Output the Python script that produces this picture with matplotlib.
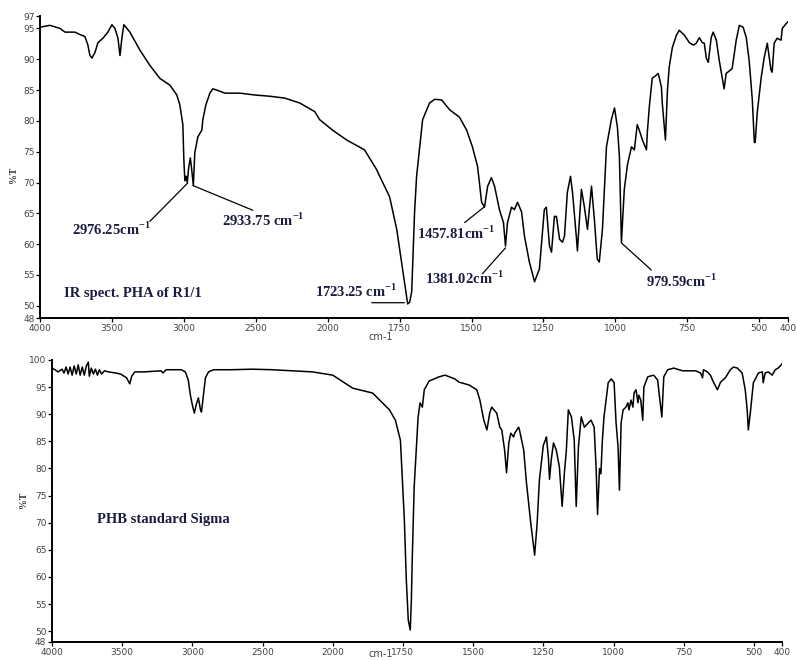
#!/usr/bin/env python3
"""IR spectra: PHA of R1/1 vs PHB standard (Sigma)."""

import numpy as np
import matplotlib
matplotlib.use('Agg')
import matplotlib.pyplot as plt

plt.rcParams['mathtext.fontset'] = 'custom'
plt.rcParams['mathtext.rm'] = 'Liberation Serif'
plt.rcParams['mathtext.bf'] = 'Liberation Serif:bold'

# ---- data: wavenumber (cm-1) and %T ----
pha_wn = [4000, 3931, 3861, 3826, 3757, 3722, 3688, 3667, 3653, 3639, 3618, 3597,
          3563, 3528, 3500, 3479, 3458, 3444, 3431, 3417, 3375, 3306, 3236, 3167,
          3097, 3049, 3028, 3007, 3000, 2993, 2986, 2983, 2976, 2966, 2955, 2945,
          2934, 2924, 2903, 2875, 2868, 2847, 2819, 2799, 2771, 2715, 2611, 2507,
          2403, 2299, 2194, 2090, 2056, 1983, 1934, 1872, 1830, 1819, 1785, 1760,
          1740, 1726, 1722, 1715, 1708, 1698, 1691, 1680, 1670, 1646, 1628, 1604,
          1576, 1542, 1517, 1497, 1479, 1465, 1455, 1444, 1431, 1420, 1403, 1389,
          1382, 1375, 1361, 1351, 1340, 1326, 1316, 1299, 1281, 1264, 1247, 1240,
          1229, 1222, 1212, 1205, 1194, 1184, 1177, 1167, 1156, 1149, 1135, 1132,
          1118, 1108, 1097, 1083, 1073, 1063, 1056, 1045, 1031, 1014, 1003, 993,
          986, 979, 969, 958, 944, 934, 924, 917, 906, 892, 889, 882, 872, 858,
          851, 840, 837, 826, 819, 813, 802, 788, 778, 760, 743, 729, 719, 708,
          698, 691, 684, 677, 667, 660, 649, 639, 629, 622, 615, 604, 594, 580,
          569, 556, 545, 535, 524, 517, 514, 507, 493, 483, 472, 459, 455, 448,
          438, 424, 420, 406, 400]
pha_t = [95.2, 95.5, 95.0, 94.4, 94.4, 94.0, 93.7, 92.3, 90.6, 90.2, 91.1, 92.7,
         93.4, 94.4, 95.6, 95.0, 93.4, 90.6, 93.4, 95.6, 94.4, 91.5, 89.0, 86.9,
         85.8, 84.2, 82.6, 79.4, 73.7, 70.3, 71.0, 71.0, 70.0, 72.5, 74.0, 72.0,
         69.5, 74.8, 77.4, 78.5, 80.2, 82.6, 84.5, 85.2, 85.0, 84.5, 84.5, 84.2,
         84.0, 83.7, 82.9, 81.5, 80.2, 78.5, 76.9, 75.3, 72.1, 71.0, 67.7, 62.4,
         56.0, 51.6, 50.3, 50.6, 52.3, 65.2, 71.0, 75.8, 80.2, 82.9, 83.5, 83.4,
         81.8, 80.6, 78.5, 75.8, 72.6, 66.8, 66.0, 69.4, 70.8, 69.4, 65.6, 63.5,
         59.7, 63.5, 66.0, 65.6, 66.8, 65.2, 61.3, 57.1, 53.9, 56.0, 65.6, 66.0,
         59.7, 58.7, 64.5, 64.5, 60.8, 60.3, 61.3, 68.4, 71.0, 68.4, 60.8, 58.9,
         68.9, 66.1, 62.4, 69.4, 64.0, 57.6, 57.1, 62.4, 75.8, 80.2, 82.1, 79.0,
         74.2, 60.3, 68.9, 72.9, 75.8, 75.3, 79.4, 78.5, 76.9, 75.3, 78.1, 82.3,
         86.9, 87.4, 87.7, 85.5, 82.9, 76.9, 85.0, 88.7, 91.9, 93.9, 94.7, 93.9,
         92.7, 92.3, 92.6, 93.5, 92.7, 92.6, 90.2, 89.5, 93.5, 94.4, 93.1, 89.8,
         87.1, 85.2, 87.7, 88.1, 88.5, 93.1, 95.5, 95.2, 93.5, 89.8, 83.4, 76.5,
         76.5, 81.3, 87.1, 90.2, 92.6, 88.2, 87.9, 92.6, 93.4, 93.1, 95.0, 95.8,
         96.1]

phb_wn = [4000, 3978, 3957, 3928, 3914, 3899, 3885, 3871, 3856, 3842, 3827, 3813,
          3799, 3784, 3770, 3755, 3741, 3734, 3720, 3705, 3691, 3676, 3662, 3647,
          3626, 3597, 3547, 3511, 3468, 3446, 3432, 3410, 3345, 3223, 3209, 3187,
          3079, 3050, 3029, 3014, 3000, 2986, 2971, 2957, 2942, 2935, 2921, 2907,
          2885, 2849, 2720, 2576, 2432, 2288, 2144, 2000, 1929, 1858, 1798, 1777,
          1759, 1752, 1745, 1738, 1731, 1724, 1720, 1717, 1713, 1710, 1706, 1696,
          1689, 1681, 1674, 1657, 1621, 1600, 1565, 1550, 1515, 1487, 1476, 1462,
          1451, 1441, 1434, 1416, 1405, 1398, 1388, 1381, 1373, 1366, 1356, 1352,
          1338, 1335, 1320, 1310, 1295, 1281, 1272, 1264, 1250, 1243, 1239, 1232,
          1228, 1222, 1214, 1204, 1193, 1183, 1175, 1168, 1161, 1150, 1140, 1133,
          1125, 1115, 1104, 1090, 1080, 1069, 1062, 1057, 1050, 1045, 1040, 1034,
          1019, 1008, 998, 991, 984, 979, 973, 966, 956, 949, 945, 938, 931, 927,
          920, 913, 910, 903, 896, 892, 878, 857, 843, 839, 828, 821, 807, 786,
          754, 708, 690, 683, 680, 666, 655, 644, 630, 619, 602, 584, 573, 559,
          542, 531, 524, 520, 513, 502, 484, 470, 467, 460, 449, 435, 424, 414,
          403, 400]
phb_t = [98.5, 98.2, 97.8, 98.3, 97.6, 98.7, 97.4, 98.7, 97.2, 98.9, 97.4, 99.1,
         97.2, 98.7, 97.2, 98.9, 99.6, 97.0, 98.5, 97.4, 98.3, 97.2, 98.2, 97.4,
         98.0, 97.8, 97.6, 97.4, 96.7, 95.6, 97.0, 97.8, 97.8, 98.0, 97.6, 98.2,
         98.2, 97.8, 96.3, 93.5, 91.7, 90.2, 91.9, 93.0, 90.8, 90.4, 93.5, 96.7,
         97.8, 98.2, 98.2, 98.3, 98.2, 98.0, 97.8, 97.2, 94.8, 93.9, 90.8, 88.9,
         85.2, 77.9, 70.5, 59.4, 52.0, 50.2, 55.7, 63.1, 70.5, 76.6, 80.3, 89.5,
         92.1, 91.3, 94.5, 96.1, 96.9, 97.2, 96.5, 95.9, 95.4, 94.5, 92.6, 88.9,
         87.1, 90.2, 91.3, 90.2, 87.6, 87.1, 83.4, 79.2, 84.7, 86.5, 85.8, 86.5,
         87.6, 87.1, 83.4, 77.3, 70.0, 64.0, 70.0, 77.9, 84.3, 85.2, 85.8, 82.0,
         78.0, 81.5, 84.7, 83.4, 80.3, 73.0, 79.2, 83.4, 90.8, 89.5, 85.2, 73.0,
         84.0, 89.5, 87.6, 88.4, 88.9, 87.6, 80.0, 71.5, 80.0, 79.0, 85.0, 89.5,
         95.8, 96.5, 95.8, 88.4, 84.0, 76.0, 88.4, 90.8, 91.3, 92.1, 90.8, 92.6,
         91.3, 93.9, 94.5, 92.1, 93.5, 92.6, 88.9, 95.0, 96.9, 97.2, 96.3, 94.5,
         89.5, 96.9, 98.2, 98.5, 98.0, 98.0, 97.6, 96.7, 98.2, 97.8, 97.2, 95.9,
         94.5, 95.9, 96.7, 98.2, 98.7, 98.5, 97.6, 94.5, 90.8, 87.1, 90.2, 95.8,
         97.6, 97.8, 95.8, 97.6, 97.8, 97.2, 98.2, 98.5, 99.1, 99.3]

xticks = [4000, 3500, 3000, 2500, 2000, 1750, 1500, 1250, 1000, 750, 500, 400]
yticks_top = [48, 50, 55, 60, 65, 70, 75, 80, 85, 90, 95, 97]
yticks_bot = [48, 50, 55, 60, 65, 70, 75, 80, 85, 90, 95, 100]

# peak labels on the PHA spectrum: (text, peak wn, peak %T, line end wn, line end %T, text wn, text %T)
peaks = [
    ('2976.25cm', 2974, 69.9, 3236, 63.7, 3778, 62.4),
    ('2933.75 cm', 2936, 69.5, 2521, 65.5, 2736, 63.9),
    ('1457.81cm', 1457, 66.0, 1524, 63.5, 1691, 61.8),
    ('1381.02cm', 1382, 59.4, 1462, 55.2, 1663, 54.4),
    ('979.59cm', 979, 60.2, 875, 55.8, 892, 54.0),
]


# IR convention: 4000-2000 at half the scale of 2000-400
def fwd(w):
    w = np.asarray(w, dtype=float)
    return np.where(w <= 2000, w, 2000 + (w - 2000) / 2)


def inv(u):
    u = np.asarray(u, dtype=float)
    return np.where(u <= 2000, u, 2000 + (u - 2000) * 2)


fig = plt.figure(figsize=(7.97, 6.60), dpi=100)
ax1 = fig.add_axes([0.0502, 0.518, 0.9385, 0.4576])
ax2 = fig.add_axes([0.0652, 0.0273, 0.9160, 0.4273])

txt_color = '#1c1c40'
lab = dict(family='Liberation Serif', fontweight='bold', fontsize=10.5,
           color=txt_color, va='center')

for ax, wn, t, yt in [(ax1, pha_wn, pha_t, yticks_top), (ax2, phb_wn, phb_t, yticks_bot)]:
    ax.set_xscale('function', functions=(fwd, inv))
    ax.plot(wn, t, color='black', lw=1.1)
    ax.set_xlim(4000, 400)
    ax.set_ylim(yt[0], yt[-1])
    ax.set_xticks(xticks)
    ax.set_xticklabels([str(x) for x in xticks])
    ax.set_yticks(yt)
    ax.set_yticklabels([str(y) for y in yt])
    ax.minorticks_off()
    for s in ['top', 'right']:
        ax.spines[s].set_visible(False)
    for s in ['left', 'bottom']:
        ax.spines[s].set_linewidth(1.4)
    ax.tick_params(axis='both', direction='out', length=3, width=0.9, pad=1,
                   labelsize=6.5, labelcolor='#444444')
    ax.patch.set_visible(False)

# annotations, top spectrum
for name, pw, pt, lw_, lt, tw, tt in peaks:
    ax1.annotate('', xy=(pw, pt), xytext=(lw_, lt),
                 arrowprops=dict(arrowstyle='-', color='black', lw=0.9,
                                 shrinkA=0, shrinkB=0))
    ax1.text(tw, tt, name + r'$^{\mathbf{-1}}$', ha='left', **lab)

ax1.annotate('', xy=(1733, 50.5), xytext=(1847, 50.5),
             arrowprops=dict(arrowstyle='-', color='black', lw=0.9,
                             shrinkA=0, shrinkB=0))
ax1.text(1757, 52.3, r'1723.25 cm$^{\mathbf{-1}}$', ha='right', **lab)
ax1.text(3833, 52.0, 'IR spect. PHA of R1/1', ha='left', **lab)
ax2.text(3676, 70.5, 'PHB standard Sigma', ha='left', **lab)

# axis labels
fig.text(0.017, 0.735, '%T', rotation=90, fontsize=7, fontweight='bold',
         family='Liberation Serif', ha='center', va='center', color='#333333')
fig.text(0.030, 0.242, '%T', rotation=90, fontsize=7, fontweight='bold',
         family='Liberation Serif', ha='center', va='center', color='#333333')
fig.text(0.478, 0.489, 'cm-1', fontsize=7, ha='center', va='center', color='#444444')
fig.text(0.478, 0.001, 'cm-1', fontsize=7, ha='center', va='bottom', color='#444444')

plt.savefig('out.png', dpi=100)
